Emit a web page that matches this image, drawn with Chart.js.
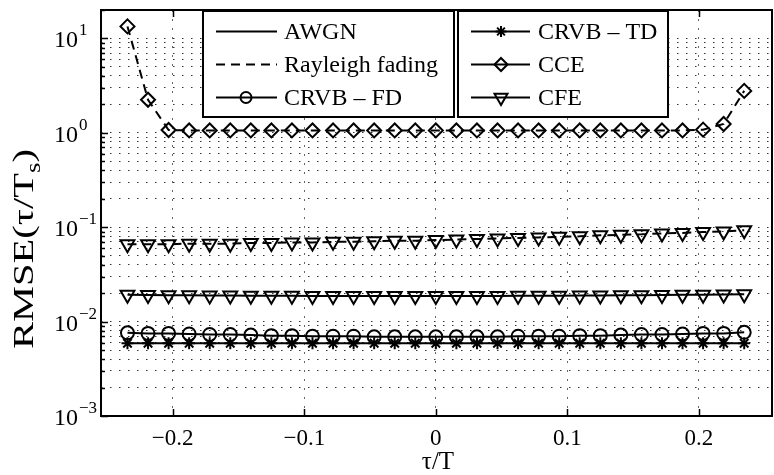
<!DOCTYPE html>
<html>
<head>
<meta charset="UTF-8">
<title>RMSE(τ/Ts) vs τ/T</title>
<script src="https://cdn.jsdelivr.net/npm/chart.js@4"></script>
<style>
  html, body { margin: 0; padding: 0; background: #fff; overflow: hidden; }
  #wrap { width: 774px; height: 475px; overflow: hidden; position: relative; }
  #chart { position: absolute; left: 0; top: 0; }
</style>
</head>
<body>
<div id="wrap"><canvas id="chart" width="782" height="475"></canvas></div>
<script>
// τ/T sample positions
const tau = [
  -0.234375, -0.21875, -0.203125, -0.1875, -0.171875, -0.15625, -0.140625, -0.125,
  -0.109375, -0.09375, -0.078125, -0.0625, -0.046875, -0.03125, -0.015625, 0,
  0.015625, 0.03125, 0.046875, 0.0625, 0.078125, 0.09375, 0.109375, 0.125,
  0.140625, 0.15625, 0.171875, 0.1875, 0.203125, 0.21875, 0.234375
];

// CCE, Rayleigh fading (dashed)
const cce = [
  13.4, 2.24, 1.07, 1.06, 1.06, 1.06, 1.06, 1.06,
  1.06, 1.06, 1.06, 1.06, 1.06, 1.06, 1.06, 1.06,
  1.06, 1.06, 1.06, 1.06, 1.06, 1.06, 1.06, 1.06,
  1.06, 1.06, 1.06, 1.06, 1.08, 1.24, 2.78
];

// CFE, Rayleigh fading (dashed)
const cfeRayleigh = [
  0.066, 0.066, 0.066, 0.067, 0.067, 0.067, 0.068, 0.068,
  0.069, 0.069, 0.070, 0.070, 0.071, 0.072, 0.072, 0.073,
  0.074, 0.075, 0.076, 0.077, 0.078, 0.079, 0.080, 0.082,
  0.083, 0.084, 0.086, 0.087, 0.089, 0.090, 0.093
];

// CFE, AWGN (solid)
const cfeAwgn = [
  0.0192, 0.0191, 0.0190, 0.0190, 0.0189, 0.0189, 0.0188, 0.0188,
  0.0188, 0.0187, 0.0187, 0.0187, 0.0187, 0.0187, 0.0187, 0.0187,
  0.0187, 0.0187, 0.0187, 0.0188, 0.0188, 0.0188, 0.0189, 0.0189,
  0.0190, 0.0190, 0.0191, 0.0192, 0.0193, 0.0194, 0.0195
];

// CRVB - FD (solid, circles)
const crvbFd = [
  0.0076, 0.0075, 0.0075, 0.0074, 0.0073, 0.0073, 0.0072, 0.0071,
  0.0071, 0.0070, 0.0070, 0.0070, 0.0069, 0.0069, 0.0069, 0.0069,
  0.0069, 0.0069, 0.0069, 0.0070, 0.0070, 0.0070, 0.0071, 0.0071,
  0.0072, 0.0073, 0.0073, 0.0074, 0.0075, 0.0075, 0.0077
];

// CRVB - TD (solid, stars)
const crvbTd = [
  0.0059, 0.0059, 0.0059, 0.0059, 0.0059, 0.0059, 0.0059, 0.0059,
  0.0059, 0.0059, 0.0059, 0.0059, 0.0059, 0.0059, 0.0059, 0.0059,
  0.0059, 0.0059, 0.0059, 0.0059, 0.0059, 0.0059, 0.0059, 0.0059,
  0.0059, 0.0059, 0.0059, 0.0059, 0.0059, 0.0059, 0.0059
];

const xTicks = [-0.2, -0.1, 0, 0.1, 0.2];
const xTickLabels = ['\u22120.2', '\u22120.1', '0', '0.1', '0.2'];
const yMajor = [1e-3, 1e-2, 1e-1, 1, 10];
const yExponents = ['\u22123', '\u22122', '\u22121', '0', '1'];
const yMinorMult = [2, 3, 4, 5, 6, 7, 8, 9];
const legendLabels = ['AWGN', 'Rayleigh fading', 'CRVB \u2013 FD', 'CRVB \u2013 TD', 'CCE', 'CFE'];

const X_MIN = -0.2545, X_MAX = 0.2555;
const Y_MIN = 1e-3, Y_MAX = 20;
const SERIF = '"Liberation Serif", "Times New Roman", serif';
const DASH = [9, 6];
const LW = 2;

// grid values: every 1..9 x 10^k, plus the 20 at the top
const yGrid = [];
yMajor.forEach(m => {
  yGrid.push(m);
  yMinorMult.forEach(k => { if (m * k <= Y_MAX) yGrid.push(m * k); });
});

const pts = vals => tau.map((t, i) => ({ x: t, y: vals[i] }));

function drawMarker(ctx, style, x, y, r) {
  ctx.beginPath();
  if (style === 'circle') {
    ctx.arc(x, y, r, 0, Math.PI * 2);
  } else if (style === 'diamond') {
    ctx.moveTo(x, y - r); ctx.lineTo(x + r, y); ctx.lineTo(x, y + r); ctx.lineTo(x - r, y); ctx.closePath();
  } else if (style === 'tri') {
    ctx.moveTo(x - r * 0.866, y - r * 0.5); ctx.lineTo(x + r * 0.866, y - r * 0.5); ctx.lineTo(x, y + r); ctx.closePath();
  } else if (style === 'star') {
    for (let a = 0; a < 4; a++) {
      const ang = a * Math.PI / 4;
      ctx.moveTo(x - r * Math.cos(ang), y - r * Math.sin(ang));
      ctx.lineTo(x + r * Math.cos(ang), y + r * Math.sin(ang));
    }
  }
  ctx.stroke();
}

const decor = {
  id: 'decor',
  afterDatasetsDraw(chart) {
    const { ctx, chartArea: a, scales: { x, y } } = chart;
    ctx.save();
    ctx.strokeStyle = '#000';
    ctx.fillStyle = '#000';

    // inward ticks
    ctx.lineWidth = 1.5;
    ctx.beginPath();
    xTicks.forEach(v => {
      const px = Math.round(x.getPixelForValue(v)) + 0.5;
      ctx.moveTo(px, a.bottom); ctx.lineTo(px, a.bottom - 7);
      ctx.moveTo(px, a.top); ctx.lineTo(px, a.top + 7);
    });
    yGrid.forEach(v => {
      const py = Math.round(y.getPixelForValue(v)) + 0.5;
      const len = yMajor.includes(v) ? 7 : 4;
      ctx.moveTo(a.left, py); ctx.lineTo(a.left + len, py);
    });
    ctx.stroke();

    // axes box
    ctx.lineWidth = 2;
    ctx.strokeRect(a.left, a.top, a.right - a.left, a.bottom - a.top);

    // legend boxes
    const boxes = [
      { x: 203, y: 11, w: 251, h: 106, lx0: 216, lx1: 277, mx: 246, tx: 284, items: [
        { label: legendLabels[0], dash: [], marker: null },
        { label: legendLabels[1], dash: DASH, marker: null },
        { label: legendLabels[2], dash: [], marker: 'circle', r: 5.5 } ] },
      { x: 458, y: 11, w: 210, h: 106, lx0: 471, lx1: 530, mx: 501, tx: 538, items: [
        { label: legendLabels[3], dash: [], marker: 'star', r: 5.5 },
        { label: legendLabels[4], dash: [], marker: 'diamond', r: 6.5 },
        { label: legendLabels[5], dash: [], marker: 'tri', r: 7.5 } ] }
    ];
    const rows = [31, 64, 97];
    boxes.forEach(b => {
      ctx.fillStyle = '#fff';
      ctx.fillRect(b.x, b.y, b.w, b.h);
      ctx.lineWidth = 2;
      ctx.strokeStyle = '#000';
      ctx.strokeRect(b.x, b.y, b.w, b.h);
      b.items.forEach((it, i) => {
        const ry = rows[i] + 0.5;
        ctx.lineWidth = LW;
        ctx.setLineDash(it.dash);
        ctx.beginPath(); ctx.moveTo(b.lx0, ry); ctx.lineTo(b.lx1, ry); ctx.stroke();
        ctx.setLineDash([]);
        if (it.marker) drawMarker(ctx, it.marker, b.mx, ry, it.r);
        ctx.fillStyle = '#000';
        ctx.font = '24px ' + SERIF;
        ctx.textAlign = 'left';
        ctx.textBaseline = 'middle';
        ctx.fillText(it.label, b.tx, ry + 1);
      });
    });

    // tick labels
    ctx.fillStyle = '#000';
    ctx.font = '23px ' + SERIF;
    ctx.textAlign = 'center';
    ctx.textBaseline = 'middle';
    xTicks.forEach((v, i) => ctx.fillText(xTickLabels[i], x.getPixelForValue(v), 439));

    yMajor.forEach((v, i) => {
      const py = y.getPixelForValue(v);
      ctx.font = '24px ' + SERIF;
      ctx.textAlign = 'right';
      ctx.textBaseline = 'alphabetic';
      ctx.fillText('10', 78, py + 9);
      ctx.font = '17px ' + SERIF;
      ctx.textAlign = 'left';
      ctx.fillText(yExponents[i], 79, py - 3);
    });

    // axis titles
    ctx.font = '25px ' + SERIF;
    ctx.textAlign = 'center';
    ctx.textBaseline = 'middle';
    ctx.fillText('\u03c4/T', 438, 462);

    ctx.save();
    ctx.translate(33, 249);
    ctx.rotate(-Math.PI / 2);
    ctx.scale(1.35, 1);
    ctx.textAlign = 'left';
    ctx.textBaseline = 'alphabetic';
    const bigF = '30px ' + SERIF, smallF = '20px ' + SERIF;
    ctx.font = bigF;
    const wMain = ctx.measureText('RMSE(\u03c4/T').width;
    const wClose = ctx.measureText(')').width;
    ctx.font = smallF;
    const wSub = ctx.measureText('s').width;
    const sx = -(wMain + wSub + wClose) / 2;
    ctx.font = bigF;
    ctx.fillText('RMSE(\u03c4/T', sx, 0);
    ctx.font = smallF;
    ctx.fillText('s', sx + wMain, 7);
    ctx.font = bigF;
    ctx.fillText(')', sx + wMain + wSub, 0);
    ctx.restore();

    ctx.restore();
  }
};

const common = {
  borderColor: '#000',
  borderWidth: LW,
  pointBorderColor: '#000',
  pointBackgroundColor: 'rgba(0,0,0,0)',
  pointBorderWidth: LW,
  pointHoverRadius: 0,
  fill: false,
  tension: 0
};

new Chart(document.getElementById('chart'), {
  type: 'line',
  data: {
    datasets: [
      { ...common, label: 'CCE (Rayleigh)', data: pts(cce), borderDash: DASH, pointStyle: 'rectRot', pointRadius: 7 },
      { ...common, label: 'CFE (Rayleigh)', data: pts(cfeRayleigh), borderDash: DASH, pointStyle: 'triangle', pointRotation: 180, pointRadius: 8 },
      { ...common, label: 'CFE (AWGN)', data: pts(cfeAwgn), pointStyle: 'triangle', pointRotation: 180, pointRadius: 8 },
      { ...common, label: 'CRVB - FD', data: pts(crvbFd), pointStyle: 'circle', pointRadius: 6.5 },
      { ...common, label: 'CRVB - TD', data: pts(crvbTd), pointStyle: 'star', pointRadius: 6 }
    ]
  },
  options: {
    responsive: false,
    animation: false,
    events: [],
    layout: { padding: { top: 8, left: 0, right: 0, bottom: 0 } },
    plugins: { legend: { display: false }, tooltip: { enabled: false } },
    scales: {
      x: {
        type: 'linear', min: X_MIN, max: X_MAX,
        afterBuildTicks: s => { s.ticks = xTicks.map(v => ({ value: v })); },
        afterFit: s => { s.height = 59; },
        ticks: { display: false },
        grid: { color: '#666', lineWidth: 1, drawTicks: false, tickLength: 0 },
        border: { display: false, dash: [2, 7] }
      },
      y: {
        type: 'logarithmic', min: Y_MIN, max: Y_MAX,
        afterBuildTicks: s => { s.ticks = yGrid.map(v => ({ value: v })); },
        afterFit: s => { s.width = 101; },
        ticks: { display: false },
        grid: { color: '#333', lineWidth: 1, drawTicks: false, tickLength: 0 },
        border: { display: false, dash: [1.5, 7.5] }
      }
    }
  },
  plugins: [decor]
});
</script>
</body>
</html>
